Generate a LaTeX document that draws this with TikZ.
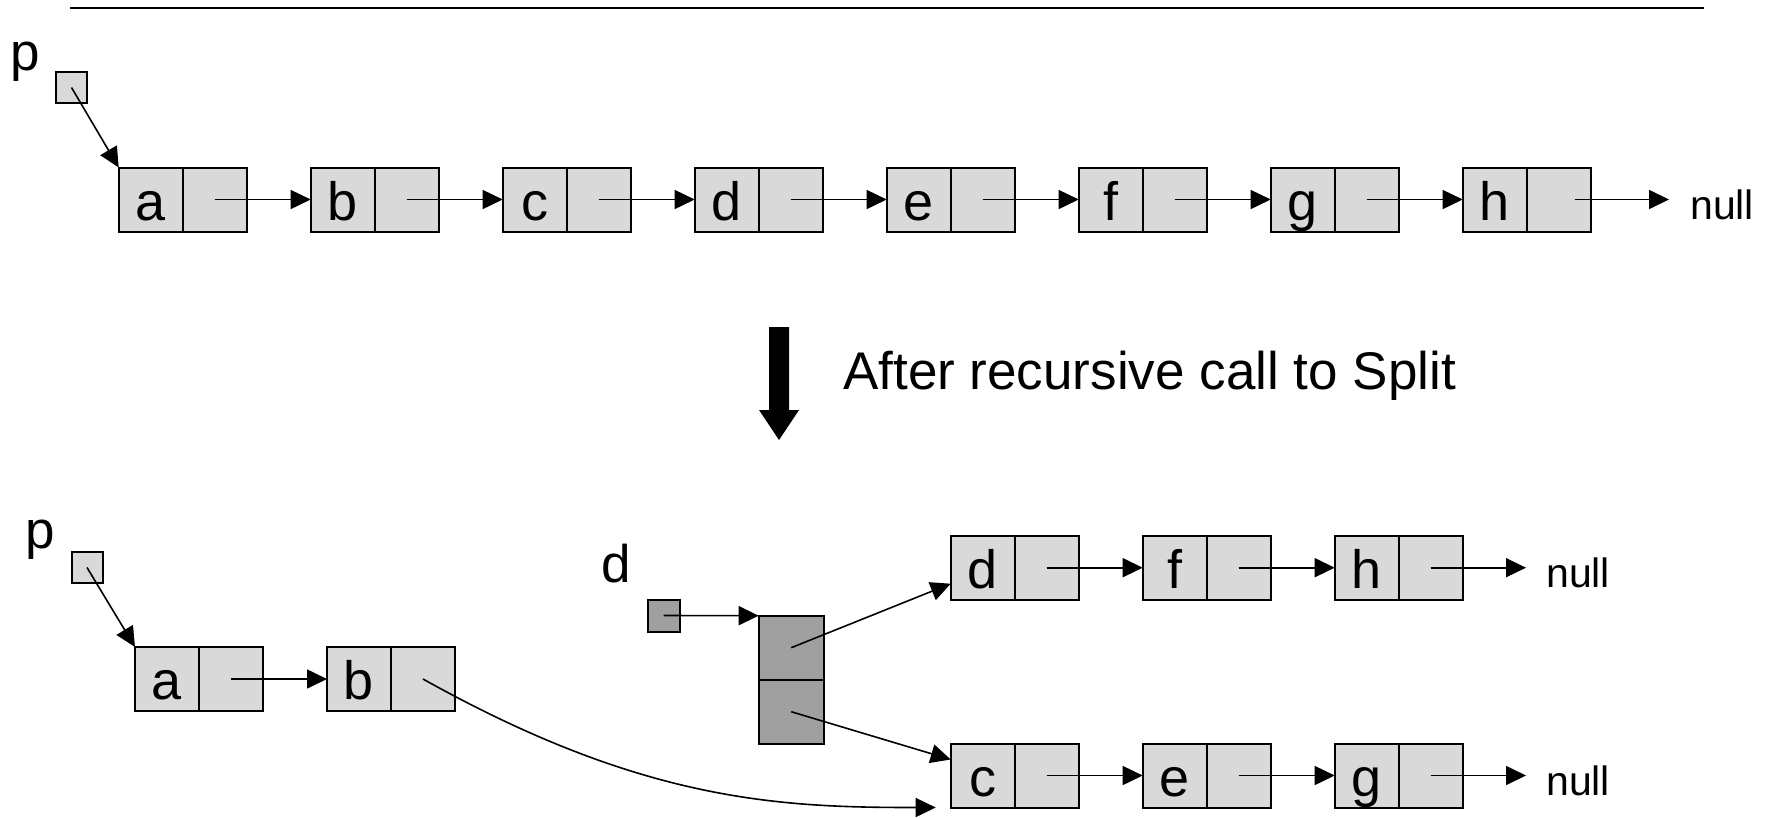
\documentclass[tikz,border=0pt]{standalone}
\usepackage{fontspec}
\setmainfont{Liberation Sans}
\usetikzlibrary{arrows.meta}
\definecolor{cellgray}{RGB}{217,217,217}
\definecolor{headgray}{RGB}{160,160,160}
\tikzset{
  cell/.style={draw, line width=2pt, fill=cellgray, minimum width=64pt,
    minimum height=64pt, inner sep=0pt, outer sep=0pt,
    text height=41pt, text depth=0pt, font=\fontsize{54}{60}\selectfont},
  ptrcell/.style={cell, anchor=west},
  headcell/.style={cell, fill=headgray, minimum width=65pt},
  handle/.style={draw, line width=2pt, fill=cellgray, minimum size=31pt,
    inner sep=0pt, outer sep=0pt},
  ptr/.style={line width=1.6pt, -{Triangle[length=20pt,width=19pt]}},
  bigtxt/.style={anchor=base west, inner sep=0pt, font=\fontsize{53}{60}\selectfont},
  nulltxt/.style={anchor=base west, inner sep=0pt, font=\fontsize{41}{48}\selectfont},
}
\begin{document}
\begin{tikzpicture}[x=1pt, y=-1pt]
\useasboundingbox (0,0) rectangle (1776,817);

% rule across the top
\draw[line width=1.8pt] (70,8) -- (1704,8);

% ---------- original list ----------
\node[bigtxt] (p-top) at (10,70) {p};
\node[handle] (psq-top) at (71.5,87.5) {};
\foreach \l [count=\i from 0] in {a,b,c,d,e,f,g,h} {
  \node[cell] (top-\l) at ({150.7+192*\i},199.5) {\l};
  \node[ptrcell] (top-\l-n) at (top-\l.east) {};
}
\draw[ptr] (psq-top.center) -- (top-a.north west);
\foreach \x/\y in {a/b,b/c,c/d,d/e,e/f,f/g,g/h}
  \draw[ptr] (top-\x-n.center) -- (top-\y.west);
\node[nulltxt] (null-top) at (1690,219) {null};
\draw[ptr] ([xshift=16pt]top-h-n.center) -- ([xshift=-21pt]null-top.west |- top-h-n.center);

% ---------- transition ----------
\fill (769,327) -- (789,327) -- (789,410) -- (799,410) -- (779,440)
  -- (759,410) -- (769,410) -- cycle;
\node[bigtxt] (caption) at (843,389) {After recursive call to Split};

% ---------- after the split ----------
\node[bigtxt] (p-bot) at (25,548.3) {p};
\node[handle] (psq-bot) at (87,567.5) {};
\foreach \l [count=\i from 0] in {a,b} {
  \node[cell] (bl-\l) at ({167+192*\i},679) {\l};
  \node[ptrcell] (bl-\l-n) at (bl-\l.east) {};
}
\draw[ptr] (psq-bot.center) -- (bl-a.north west);
\draw[ptr] (bl-a-n.center) -- (bl-b.west);

% odd positions
\foreach \l [count=\i from 0] in {d,f,h} {
  \node[cell] (bu-\l) at ({982.7+192*\i},567.7) {\l};
  \node[ptrcell] (bu-\l-n) at (bu-\l.east) {};
}
\draw[ptr] (bu-d-n.center) -- (bu-f.west);
\draw[ptr] (bu-f-n.center) -- (bu-h.west);
\node[nulltxt] (null-u) at (1546,587.7) {null};
\draw[ptr] (bu-h-n.center) -- ([xshift=-20pt]null-u.west |- bu-h-n.center);

% even positions
\foreach \l [count=\i from 0] in {c,e,g} {
  \node[cell] (bw-\l) at ({982.7+192*\i},775.5) {\l};
  \node[ptrcell] (bw-\l-n) at (bw-\l.east) {};
}
\draw[ptr] (bw-c-n.center) -- (bw-e.west);
\draw[ptr] (bw-e-n.center) -- (bw-g.west);
\node[nulltxt] (null-w) at (1546,795.5) {null};
\draw[ptr] (bw-g-n.center) -- ([xshift=-20pt]null-w.west |- bw-g-n.center);

% the two-field result record
\node[bigtxt] (d-lbl) at (601,582) {d};
\node[handle, fill=headgray, minimum size=32pt] (dsq) at (663.5,615.5) {};
\node[headcell] (rec-top) at (791.2,647.7) {};
\node[headcell, anchor=north] (rec-bot) at (rec-top.south) {};
\draw[ptr] (dsq.center) -- (rec-top.north west);
\draw[ptr] (rec-top.center) -- ([yshift=-16pt]bu-d.west);
\draw[ptr] (rec-bot.center) -- ([yshift=16pt]bw-c.west);

% b's link now leads to c
\draw[ptr] (bl-b-n.center) .. controls +(220,123) and +(-156,0) .. ([xshift=-15pt]bw-c.south west);
\end{tikzpicture}
\end{document}
